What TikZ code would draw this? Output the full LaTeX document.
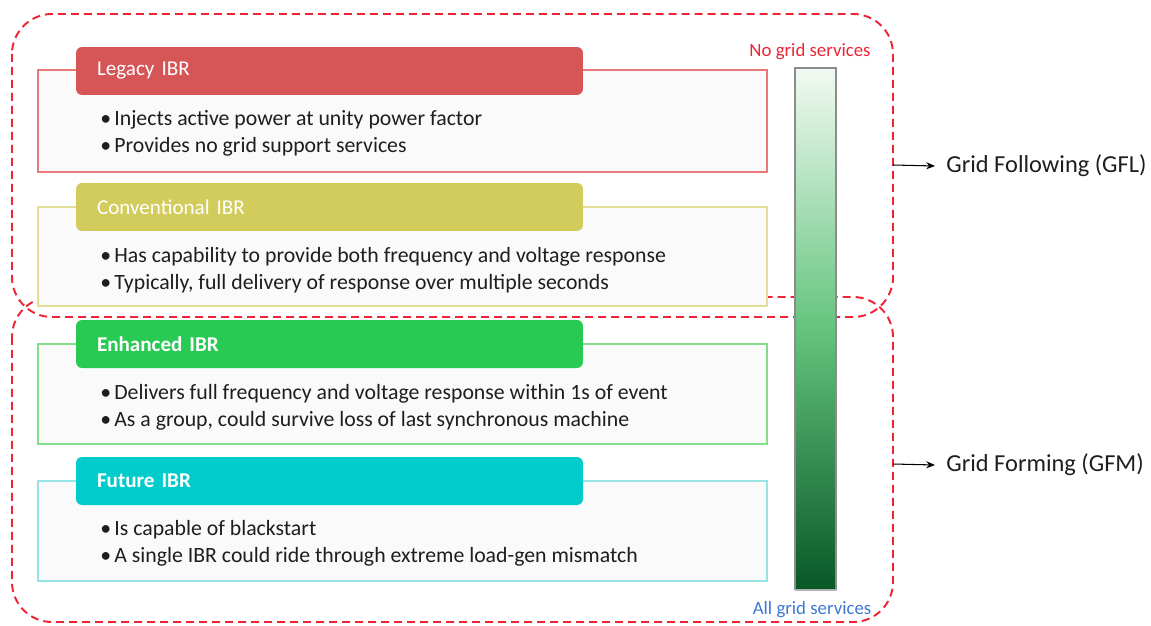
\documentclass[tikz,border=0pt]{standalone}
\usepackage{fontspec}
\setmainfont{Carlito}
\usetikzlibrary{arrows.meta}
\definecolor{legH}{RGB}{214,86,88}
\definecolor{legB}{RGB}{232,120,122}
\definecolor{conH}{RGB}{210,204,92}
\definecolor{conB}{RGB}{226,222,150}
\definecolor{enhH}{RGB}{40,202,84}
\definecolor{enhB}{RGB}{130,222,140}
\definecolor{futH}{RGB}{0,204,204}
\definecolor{futB}{RGB}{150,228,228}
\definecolor{dashred}{RGB}{236,36,52}
\definecolor{bluelab}{RGB}{60,120,210}
\definecolor{txt}{RGB}{30,30,30}
\definecolor{barTop}{RGB}{242,250,242}
\definecolor{barMid}{RGB}{100,196,126}
\definecolor{barBot}{RGB}{8,88,38}
\tikzset{
  header/.style={fill=#1, rounded corners=0.12cm, minimum width=10.14cm, minimum height=0.96cm,
    inner xsep=0.42cm, text width=9.3cm, align=left, text=white, font=\fontsize{12}{14}\selectfont},
  outerbox/.style={draw=#1, line width=0.8pt, fill=black!2},
  bullets/.style={anchor=north west, align=left, inner sep=0pt, text=txt,
    font=\fontsize{12.4}{15.3}\selectfont},
  group/.style={draw=dashred, dashed, dash pattern=on 0.16cm off 0.1cm, line width=1.1pt, rounded corners=0.8cm},
  sidelab/.style={anchor=west, inner sep=0pt, text=txt, font=\fontsize{13.9}{16}\selectfont},
  conn/.style={-{Stealth[length=5pt,width=4pt]}, line width=0.6pt, black},
}
\newcommand{\blt}{\makebox[0.28cm][l]{\textbullet}}
\begin{document}
\begin{tikzpicture}[x=0.02cm,y=-0.02cm]
\useasboundingbox (0,0) rectangle (1151,625);
% group frames
\draw[group] (12,14) rectangle (893,317);
\draw[group] (12,297) rectangle (893,622);
% Legacy
\draw[outerbox=legB] (38,70) rectangle (767,172);
\node[header=legH] (legacy) at (329.5,71) {Legacy IBR};
\node[bullets] (legacyT) at (100,110) {\blt Injects active power at unity power factor\\\blt Provides no grid support services};
% Conventional
\draw[outerbox=conB] (38,207) rectangle (767,306);
\node[header=conH] (conv) at (329.5,207) {Conventional IBR};
\node[bullets] (convT) at (100,247) {\blt Has capability to provide both frequency and voltage response\\\blt Typically, full delivery of response over multiple seconds};
% Enhanced
\draw[outerbox=enhB] (38,344) rectangle (767,444);
\node[header=enhH] (enh) at (329.5,344) {\textbf{Enhanced IBR}};
\node[bullets] (enhT) at (100,384) {\blt Delivers full frequency and voltage response within 1s of event\\\blt As a group, could survive loss of last synchronous machine};
% Future
\draw[outerbox=futB] (38,481) rectangle (767,581);
\node[header=futH] (fut) at (329.5,481) {\textbf{Future IBR}};
\node[bullets] (futT) at (100,520) {\blt Is capable of blackstart\\\blt A single IBR could ride through extreme load-gen mismatch};
% gradient bar
\shade[top color=barTop, bottom color=barBot, middle color=barMid] (795,68) rectangle (836,590);
\draw[black!45, line width=0.8pt] (795,590) -- (795,68) -- (836,68) -- (836,590);
\draw[black!30, line width=0.6pt] (795,590) -- (836,590);
\node[text=dashred, font=\fontsize{10.7}{12}\selectfont, inner sep=0pt] (nogrid) at (810,52) {No grid services};
\node[text=bluelab, font=\fontsize{10.7}{12}\selectfont, inner sep=0pt] (allgrid) at (812,610) {All grid services};
% side labels
\coordinate (gflS) at (893,165);
\coordinate (gfmS) at (893,464);
\node[sidelab] (gfl) at (946,166) {Grid Following (GFL)};
\node[sidelab] (gfm) at (946,465) {Grid Forming (GFM)};
\draw[conn] (gflS) -- (gfl.west -| 935,0);
\draw[conn] (gfmS) -- (gfm.west -| 935,0);
\end{tikzpicture}
\end{document}
